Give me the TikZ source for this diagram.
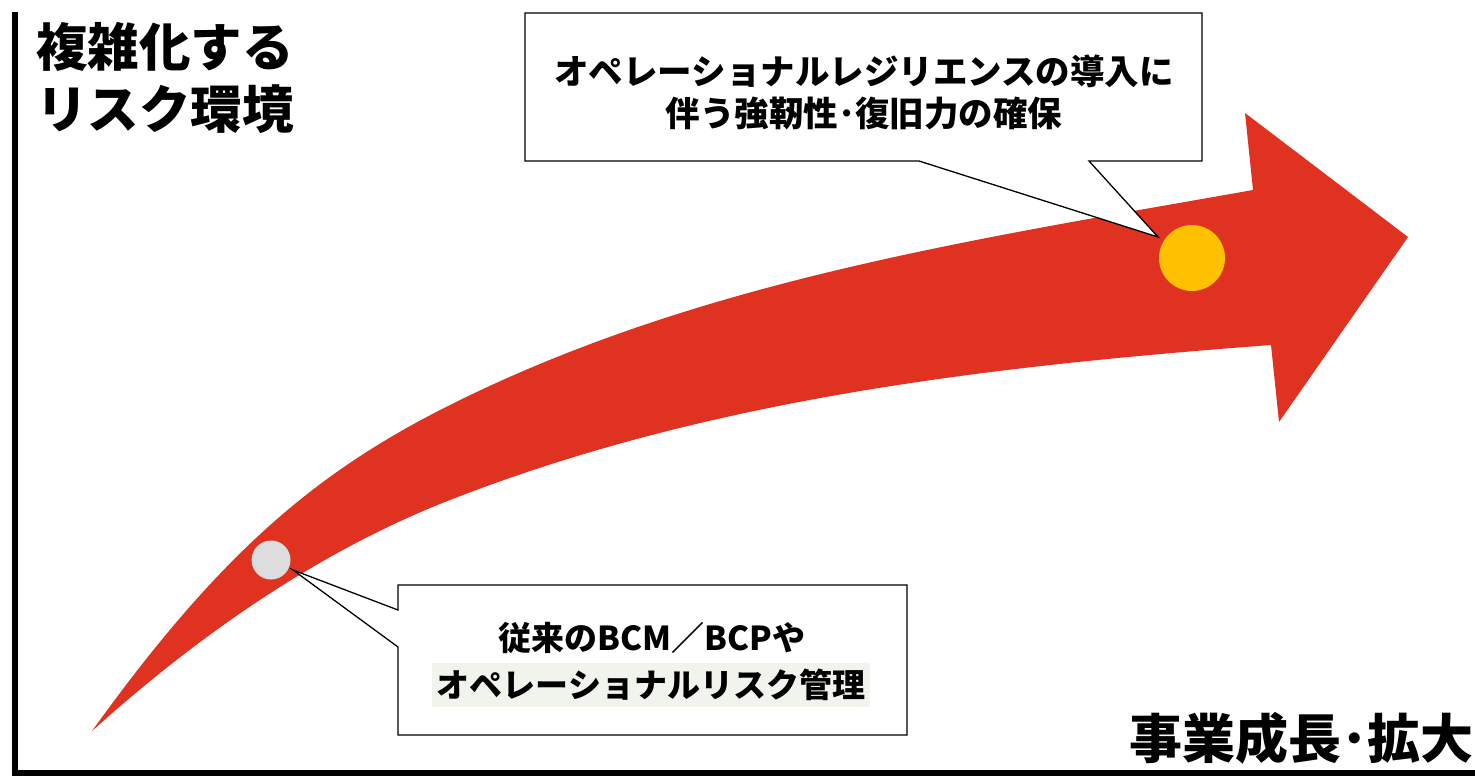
\documentclass[tikz,border=0pt]{standalone}
\usepackage{fontspec}
\newfontfamily\jp{Noto Sans CJK JP}
\definecolor{arrowred}{HTML}{E03220}
\definecolor{dotyellow}{HTML}{FFC000}
\definecolor{dotgray}{HTML}{DDDDDD}
\definecolor{hl}{HTML}{F0F4EC}
\tikzset{
  axisline/.style={line width=5.5pt},
  callout/.style={fill=white, draw=black, line width=1.3pt, line join=miter},
  bigtext/.style={font=\jp\bfseries\fontsize{53}{62}\selectfont, inner sep=0pt},
  titletext/.style={font=\jp\bfseries\fontsize{51.5}{62}\selectfont, inner sep=0pt},
  boxtext/.style={font=\jp\bfseries\fontsize{34.5}{42}\selectfont, inner sep=0pt, align=center},
  lowtext/.style={font=\jp\bfseries\fontsize{33}{42}\selectfont, inner sep=0pt, align=center},
}
\begin{document}
\begin{tikzpicture}[x=1pt,y=-1pt]
\useasboundingbox (0,0) rectangle (1475,777);
% axes
\coordinate (ytop) at (15,12);
\coordinate (origin) at (15,773);
\coordinate (xend) at (1475,773);
\draw[axisline] (ytop) -- (origin) -- (xend);
% arrow
\coordinate (tail) at (92,731);
\coordinate (umid) at (450,405);
\coordinate (ujoin) at (1253,190);
\coordinate (htop) at (1245,113);
\coordinate (htip) at (1408,237);
\coordinate (hbot) at (1279,422);
\coordinate (ljoin) at (1271,345);
\coordinate (lmid) at (450,500);
\fill[arrowred] (tail) .. controls (220,553) and (316,472) .. (umid)
  .. controls (700,280) and (977,239) .. (ujoin)
  -- (htop) -- (htip) -- (hbot) -- (ljoin)
  .. controls (992,366) and (711,398) .. (lmid)
  .. controls (318,551.5) and (197.5,636) .. (tail) -- cycle;
% markers
\node[circle, fill=dotyellow, minimum size=66pt, inner sep=0pt] (yel) at (1192,258) {};
\node[circle, fill=dotgray, minimum size=39pt, inner sep=0pt] (gry) at (271,560) {};
% top callout
\coordinate (tip1) at (1158,237);
\draw[callout] (525,13) -- (1202,13) -- (1202,161) -- (1089,161) -- (tip1) -- (919,161) -- (525,161) -- cycle;
\node[boxtext] (t1) at (864,92) {オペレーショナルレジリエンスの導入に\\伴う強靭性･復旧力の確保};
% bottom callout
\coordinate (tip2) at (293,570);
\draw[callout] (398,585) -- (907,585) -- (907,735) -- (398,735) -- (398,647) -- (tip2) -- (398,610) -- cycle;
\node[lowtext] (b1) at (652,638) {従来のBCM／BCPや};
\node[lowtext, fill=hl, minimum width=438pt, minimum height=44pt] (b2) at (651,685) {オペレーショナルリスク管理};
% axis labels
\node[titletext, anchor=north west, align=left] (ylab) at (36,22) {複雑化する\\リスク環境};
\node[bigtext, anchor=east] (xlab) at (1474,738) {事業成長･拡大};
\end{tikzpicture}
\end{document}
